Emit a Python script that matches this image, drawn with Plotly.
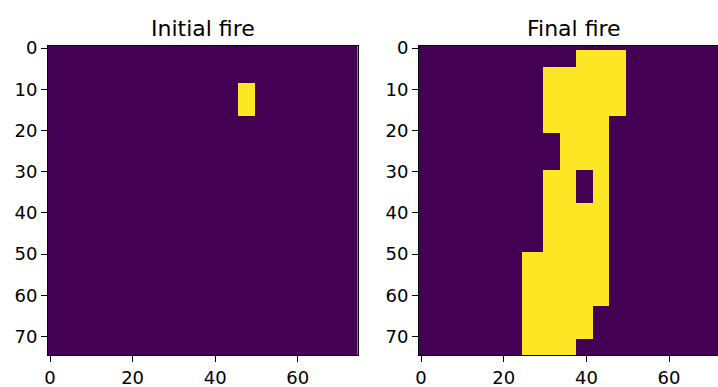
import numpy as np
import plotly.graph_objects as go

N = 75
titles = ["Initial fire", "Final fire"]

# Initial fire: burning block (row_start, row_end, col_start, col_end), inclusive
init_row_start = [9]
init_row_end = [16]
init_col_start = [46]
init_col_end = [49]

# Final fire: burning spans by row band
final_row_start = [1, 5, 17, 21, 30, 50, 63, 71]
final_row_end = [4, 16, 20, 29, 49, 62, 70, 74]
final_col_start = [38, 30, 30, 34, 30, 25, 25, 25]
final_col_end = [49, 49, 45, 45, 45, 45, 41, 37]
# Unburnt hole inside the final fire
hole_row_start = [30]
hole_row_end = [37]
hole_col_start = [38]
hole_col_end = [41]

x_ticks = [0, 20, 40, 60]
y_ticks = [0, 10, 20, 30, 40, 50, 60, 70]


def build(rs, re, cs, ce, val, grid=None):
    if grid is None:
        grid = np.zeros((N, N))
    for a, b, c, d in zip(rs, re, cs, ce):
        grid[a:b + 1, c:d + 1] = val
    return grid


initial = build(init_row_start, init_row_end, init_col_start, init_col_end, 1)
final = build(final_row_start, final_row_end, final_col_start, final_col_end, 1)
final = build(hole_row_start, hole_row_end, hole_col_start, hole_col_end, 0, final)

W, H = 718, 387
ml, mt, mb = 48.4, 46.2, 387 - 355.2
pw = W - ml
left_dom = [0, (357.8 - ml) / pw]
right_dom = [(419.2 - ml) / pw, 1]

fig = go.Figure()
for i, z in enumerate([initial, final]):
    fig.add_trace(go.Heatmap(
        z=z, x=list(range(N)), y=list(range(N)),
        colorscale="Viridis", zmin=0, zmax=1, showscale=False,
        xaxis="x" if i == 0 else "x2", yaxis="y" if i == 0 else "y2",
        hoverinfo="skip",
    ))

font = dict(family="DejaVu Sans", size=18, color="black")
ax_common = dict(showgrid=False, zeroline=False, showline=True, linecolor="black",
                 linewidth=1, ticks="outside", ticklen=6, tickwidth=1, tickcolor="black",
                 tickfont=font, automargin=False)

fig.update_layout(
    width=W, height=H,
    margin=dict(l=ml, r=0, t=mt, b=mb, pad=0),
    paper_bgcolor="white", plot_bgcolor="white",
    showlegend=False,
    xaxis=dict(domain=left_dom, range=[-0.5, 74.5], tickvals=x_ticks, mirror=True,
               anchor="y", **ax_common),
    yaxis=dict(domain=[0, 1], range=[74.5, -0.5], tickvals=y_ticks, mirror=True,
               anchor="x", **ax_common),
    xaxis2=dict(domain=right_dom, range=[-0.5, 71.85], tickvals=x_ticks, mirror=True,
                anchor="y2", **ax_common),
    yaxis2=dict(domain=[0, 1], range=[74.5, -0.5], tickvals=y_ticks, mirror=False,
                anchor="x2", **ax_common),
)

ph = H - mt - mb
title_y = 1 + (mt - 28.5) / ph
centers = [(ml + 357.8) / 2, 574.5]
for t, cx in zip(titles, centers):
    fig.add_annotation(text=t, x=(cx - ml) / pw, y=title_y, xref="paper", yref="paper",
                       xanchor="center", yanchor="middle", showarrow=False,
                       font=dict(family="DejaVu Sans", size=22, color="black"))

fig.write_html("out.html", config={"displayModeBar": False},
               post_script="document.body.style.margin='0px';document.body.style.overflow='hidden';")
